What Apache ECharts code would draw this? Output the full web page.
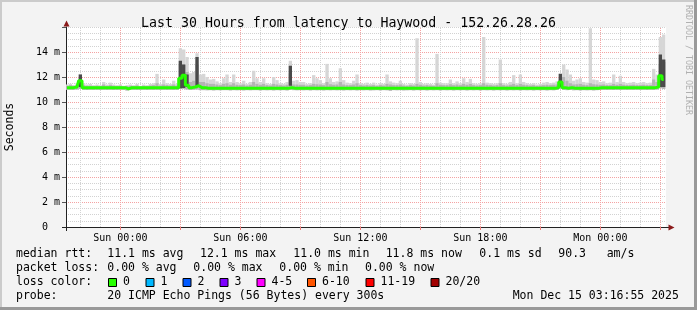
<!DOCTYPE html>
<html><head><meta charset="utf-8">
<script src="https://cdn.jsdelivr.net/npm/echarts@6/dist/echarts.min.js"></script>
<style>html,body{margin:0;padding:0;background:#f3f3f3}#c{width:697px;height:310px}</style>
</head><body><div id="c"></div>
<script>
// ---------------- data ----------------
const graphStart = Date.UTC(2025, 11, 13, 21, 16, 55);
const graphEnd   = Date.UTC(2025, 11, 15, 3, 16, 55);
const sampleStart = Date.UTC(2025, 11, 13, 21, 20, 0);
const sampleStepMin = 10;

const medianMs = [
11.15,11.15,11.15,11.20,11.70,11.15,11.15,11.15,11.15,11.15,
11.15,11.15,11.15,11.15,11.15,11.15,11.15,11.15,11.05,11.15,
11.15,11.15,11.15,11.15,11.15,11.15,11.15,11.15,11.15,11.15,
11.15,11.15,11.15,11.15,11.90,12.15,11.35,11.15,11.20,11.30,
11.15,11.15,11.10,11.10,11.10,11.10,11.10,11.10,11.10,11.10,
11.10,11.10,11.10,11.10,11.10,11.10,11.10,11.10,11.10,11.10,
11.10,11.10,11.10,11.10,11.10,11.10,11.10,11.15,11.10,11.10,
11.10,11.10,11.10,11.10,11.10,11.10,11.10,11.10,11.10,11.10,
11.10,11.10,11.10,11.10,11.10,11.10,11.10,11.10,11.10,11.10,
11.10,11.10,11.10,11.10,11.10,11.10,11.10,11.10,11.10,11.10,
11.10,11.10,11.10,11.10,11.10,11.10,11.10,11.10,11.10,11.10,
11.10,11.10,11.10,11.10,11.10,11.10,11.10,11.10,11.10,11.10,
11.10,11.10,11.10,11.10,11.10,11.10,11.10,11.10,11.10,11.10,
11.10,11.10,11.10,11.10,11.10,11.10,11.10,11.10,11.10,11.10,
11.10,11.10,11.10,11.10,11.10,11.10,11.10,11.15,11.60,11.15,
11.10,11.15,11.10,11.10,11.10,11.10,11.10,11.10,11.10,11.10,
11.15,11.15,11.15,11.15,11.15,11.15,11.15,11.15,11.15,11.15,
11.15,11.15,11.15,11.15,11.15,11.15,11.15,11.20,12.10,11.80];

const minMs = [
10.98,10.98,10.97,11.00,11.05,10.98,10.96,10.98,10.97,10.98,
10.97,10.98,10.97,10.98,10.96,10.97,10.98,10.97,10.92,10.98,
10.98,10.97,10.97,10.98,10.96,10.98,10.97,10.98,10.97,10.98,
10.97,10.98,10.97,10.98,11.05,11.10,11.00,10.97,10.98,11.00,
10.95,10.95,10.94,10.95,10.93,10.95,10.94,10.95,10.95,10.93,
10.95,10.94,10.95,10.93,10.95,10.94,10.95,10.95,10.93,10.95,
10.94,10.95,10.93,10.95,10.94,10.95,10.93,10.98,10.95,10.94,
10.95,10.94,10.95,10.93,10.95,10.94,10.95,10.93,10.95,10.94,
10.95,10.94,10.95,10.93,10.95,10.94,10.95,10.93,10.95,10.94,
10.95,10.93,10.94,10.95,10.93,10.95,10.94,10.90,10.95,10.94,
10.95,10.93,10.94,10.95,10.93,10.95,10.94,10.95,10.93,10.95,
10.94,10.95,10.93,10.95,10.94,10.95,10.93,10.95,10.94,10.95,
10.93,10.95,10.94,10.95,10.93,10.95,10.94,10.95,10.93,10.95,
10.94,10.95,10.93,10.95,10.94,10.95,10.93,10.95,10.94,10.95,
10.93,10.95,10.94,10.95,10.93,10.95,10.94,10.97,11.05,10.98,
10.95,10.97,10.94,10.95,10.93,10.95,10.94,10.95,10.93,10.95,
10.97,10.98,10.97,10.98,10.96,10.98,10.97,10.98,10.97,10.98,
10.97,10.98,10.97,10.98,10.96,10.98,10.97,11.00,11.10,11.05];

const midMs = [
11.30,11.35,11.30,11.35,11.90,11.35,11.30,11.30,11.28,11.30,
11.28,11.40,11.30,11.35,11.30,11.28,11.30,11.25,11.28,11.30,
11.28,11.32,11.25,11.30,11.28,11.32,11.35,11.50,11.32,11.40,
11.35,11.32,11.40,11.32,13.00,13.00,12.40,11.60,11.70,13.00,
11.60,11.60,11.50,11.45,11.45,11.40,11.35,11.45,11.50,11.38,
11.50,11.38,11.35,11.40,11.32,11.38,11.60,11.45,11.38,11.45,
11.35,11.32,11.45,11.40,11.35,11.32,11.38,12.30,11.40,11.40,
11.38,11.38,11.32,11.35,11.45,11.42,11.40,11.35,11.60,11.42,
11.38,11.40,11.60,11.40,11.35,11.35,11.40,11.50,11.35,11.32,
11.35,11.32,11.35,11.30,11.35,11.32,11.45,11.40,11.35,11.35,
11.40,11.32,11.30,11.35,11.32,11.45,11.38,11.32,11.35,11.32,
11.30,11.50,11.38,11.35,11.35,11.42,11.35,11.40,11.35,11.45,
11.38,11.45,11.35,11.32,11.35,11.50,11.38,11.35,11.32,11.35,
11.50,11.35,11.32,11.38,11.45,11.35,11.45,11.38,11.35,11.32,
11.35,11.30,11.32,11.35,11.38,11.35,11.38,11.40,11.90,12.00,
11.70,11.50,11.40,11.42,11.45,11.38,11.35,11.50,11.42,11.40,
11.38,11.40,11.35,11.35,11.45,11.38,11.45,11.38,11.35,11.35,
11.38,11.35,11.35,11.38,11.35,11.35,11.80,11.60,13.00,13.20];

const maxMs = [
11.40,11.45,11.35,11.50,12.25,11.50,11.40,11.45,11.35,11.40,
11.35,11.60,11.40,11.55,11.40,11.35,11.40,11.30,11.35,11.40,
11.35,11.45,11.30,11.40,11.35,11.45,11.50,12.25,11.45,11.80,
11.50,11.45,11.70,11.45,14.30,14.20,13.60,12.30,12.40,13.90,
12.20,12.25,12.00,11.80,11.85,11.65,11.50,11.90,12.20,11.60,
12.20,11.60,11.50,11.70,11.45,11.60,12.50,11.90,11.60,11.90,
11.50,11.45,12.00,11.75,11.50,11.45,11.60,13.30,11.70,11.75,
11.60,11.60,11.45,11.50,12.15,11.90,11.75,11.50,13.05,11.90,
11.60,11.65,12.70,11.75,11.55,11.50,11.70,12.20,11.50,11.45,
11.55,11.45,11.55,11.40,11.50,11.45,12.20,11.65,11.55,11.50,
11.70,11.45,11.40,11.50,11.45,15.10,11.60,11.45,11.50,11.45,
11.40,13.85,11.55,11.50,11.50,11.80,11.50,11.65,11.50,11.90,
11.60,11.85,11.50,11.45,11.50,15.20,11.55,11.50,11.45,11.50,
13.40,11.50,11.45,11.60,12.15,11.50,12.20,11.60,11.50,11.45,
11.50,11.40,11.45,11.55,11.60,11.50,11.55,11.65,12.30,13.00,
12.60,12.20,11.70,11.80,11.90,11.60,11.55,15.90,11.80,11.75,
11.60,11.65,11.50,11.55,12.20,11.60,12.10,11.60,11.50,11.55,
11.60,11.50,11.55,11.60,11.50,11.55,12.65,12.20,15.20,15.40];

// dark (many pings elevated) parts of the smoke
const darkIdx  = [4, 34, 35, 36, 39, 67, 148, 178, 179];
const darkLoMs = [11.20, 11.10, 11.10, 11.20, 11.30, 11.30, 11.20, 11.20, 11.20];
const darkHiMs = [12.20, 13.30, 13.00, 12.20, 13.60, 12.90, 12.25, 13.80, 13.40];

const xLabelTimes = [Date.UTC(2025,11,14,0), Date.UTC(2025,11,14,6), Date.UTC(2025,11,14,12), Date.UTC(2025,11,14,18), Date.UTC(2025,11,15,0)];
const xLabelTexts = ['Sun 00:00', 'Sun 06:00', 'Sun 12:00', 'Sun 18:00', 'Mon 00:00'];

const titleText = 'Last 30 Hours from latency to Haywood - 152.26.28.26';
const statsRtt  = ['11.1 ms avg', '12.1 ms max', '11.0 ms min', '11.8 ms now', '0.1 ms sd', '90.3', 'am/s'];
const statsLoss = ['0.00 % avg', '0.00 % max', '0.00 % min', '0.00 % now'];
const lossLabels = ['0', '1', '2', '3', '4-5', '6-10', '11-19', '20/20'];
const probeText = '20 ICMP Echo Pings (56 Bytes) every 300s';
const stampText = 'Mon Dec 15 03:16:55 2025';

// ---------------- styles / layout ----------------
const lossColors = ['#26ff00', '#00b8ff', '#0059ff', '#7e00ff', '#ff00ff', '#ff5500', '#ff0000', '#a10000'];
const MONO = '"DejaVu Sans Mono", monospace';
const LEG_FONT = '11.5px "DejaVu Sans Mono", monospace';
const GL = 66, GT = 27, GW = 600, GH = 200;

const stepMs = sampleStepMin * 60000;
const times = medianMs.map((_, i) => sampleStart + i * stepMs);
const H = 3600000;
const hourLines = [];
for (let t = Date.UTC(2025, 11, 13, 22); t < graphEnd; t += H) hourLines.push(t);
const major3h = hourLines.filter(t => new Date(t).getUTCHours() % 3 === 0);

const chart = echarts.init(document.getElementById('c'), null, {renderer: 'canvas', width: 697, height: 310});

const rttX = [107.3, 200, 293.3, 385.7, 479.3, 558.3, 606.7];
const lossX = [107.3, 193.3, 279.3, 365];
const boxX = [108, 145.5, 182.5, 219.5, 256.5, 307, 365.5, 430.5];
const gtext = (text, x, y, extra) => ({type: 'text', silent: true, style: Object.assign({text, x, y, font: LEG_FONT, fill: '#000', verticalAlign: 'middle'}, extra || {})});

const graphics = [
  {type: 'rect', shape: {x: 0, y: 0, width: 697, height: 2}, style: {fill: '#cbcbcb'}, silent: true},
  {type: 'rect', shape: {x: 0, y: 0, width: 2, height: 310}, style: {fill: '#cbcbcb'}, silent: true},
  {type: 'rect', shape: {x: 0, y: 307, width: 697, height: 3}, style: {fill: '#999999'}, silent: true},
  {type: 'rect', shape: {x: 694, y: 0, width: 3, height: 310}, style: {fill: '#999999'}, silent: true},
  // axis extensions and arrows
  {type: 'line', shape: {x1: 66.5, y1: 227, x2: 66.5, y2: 231}, style: {stroke: '#222', lineWidth: 1}, silent: true, z: 10},
  {type: 'line', shape: {x1: 62, y1: 227.5, x2: 66, y2: 227.5}, style: {stroke: '#222', lineWidth: 1}, silent: true, z: 10},
  {type: 'line', shape: {x1: 666, y1: 227.5, x2: 669, y2: 227.5}, style: {stroke: '#222', lineWidth: 1}, silent: true, z: 10},
  {type: 'polygon', shape: {points: [[63.5, 26.5], [69.5, 26.5], [66.5, 20.5]]}, style: {fill: '#8b1a1a'}, silent: true, z: 10},
  {type: 'polygon', shape: {points: [[668.5, 224.5], [668.5, 230.5], [674.5, 227.5]]}, style: {fill: '#8b1a1a'}, silent: true, z: 10},
  // y axis title
  {type: 'text', silent: true, x: 10.5, y: 127, rotation: Math.PI / 2,
   style: {text: 'Seconds', x: 0, y: 0, font: LEG_FONT, fill: '#000', textAlign: 'center', verticalAlign: 'middle'}},
  // watermark
  {type: 'text', silent: true, x: 688, y: 60, rotation: -Math.PI / 2,
   style: {text: 'RRDTOOL / TOBI OETIKER', x: 0, y: 0, font: '8.3px "DejaVu Sans Mono", monospace', fill: '#b0b0b0', textAlign: 'center', verticalAlign: 'middle'}},
  // legend
  gtext('median rtt:', 16, 254.5),
  gtext('packet loss:', 16, 268.5),
  gtext('loss color:', 16, 282.5),
  gtext('probe:', 16, 296.5),
  gtext(probeText, 107.3, 296.5),
  gtext(stampText, 512.7, 296.5)
];
statsRtt.forEach((s, i) => graphics.push(gtext(s, rttX[i], 254.5)));
statsLoss.forEach((s, i) => graphics.push(gtext(s, lossX[i], 268.5)));
lossLabels.forEach((s, i) => {
  graphics.push({type: 'rect', silent: true, shape: {x: boxX[i] + 0.5, y: 278.5, width: 8, height: 8}, style: {fill: lossColors[i], stroke: '#000', lineWidth: 1}});
  graphics.push(gtext(s, boxX[i] + 15, 282.5));
});

const yLineColors = ['#f4a3a3','#f4a3a3','#f4a3a3','#f4a3a3','#f4a3a3','#f4a3a3','#f4a3a3','#f4a3a3','#d2d2d2'];

chart.setOption({
  animation: false,
  backgroundColor: '#f3f3f3',
  title: {text: titleText, left: 'center', top: 12,
    textStyle: {fontFamily: MONO, fontSize: 13.25, fontWeight: 'normal', color: '#000'}},
  grid: {left: GL, top: GT, width: GW, height: GH, show: true, backgroundColor: '#ffffff', borderWidth: 0},
  xAxis: {
    type: 'value', min: graphStart, max: graphEnd,
    axisLine: {show: true, onZero: false, lineStyle: {color: '#222', width: 1}},
    axisTick: {show: true, customValues: major3h, length: 3, lineStyle: {color: '#f08080'}},
    axisLabel: {customValues: xLabelTimes, margin: 6, fontFamily: MONO, fontSize: 10, color: '#000',
      formatter: v => { const k = xLabelTimes.indexOf(v); return k >= 0 ? xLabelTexts[k] : ''; }},
    splitLine: {show: false}
  },
  yAxis: {
    type: 'value', min: 0, max: 16, interval: 2,
    axisLine: {show: true, lineStyle: {color: '#222', width: 1}},
    axisTick: {show: true, length: 4, lineStyle: {color: '#555'}},
    axisLabel: {margin: 6, fontFamily: MONO, fontSize: 10, color: '#000',
      formatter: v => v === 16 ? '' : (v === 0 ? '0  ' : v + ' m')},
    splitLine: {show: true, lineStyle: {color: yLineColors, type: [1, 1], width: 1}},
    minorTick: {show: false, splitNumber: 4},
    minorSplitLine: {show: true, lineStyle: {color: '#d2d2d2', type: [1, 1], width: 1}}
  },
  graphic: graphics,
  series: [
    { // vertical grid lines
      type: 'custom', silent: true, z: 1, clip: true,
      data: hourLines.map(t => [t, 0]),
      renderItem: (params, api) => {
        const t = api.value(0);
        const p0 = api.coord([t, 0]), p1 = api.coord([t, 16]);
        const x = Math.floor(p0[0]) + 0.5;
        const major = new Date(t).getUTCHours() % 3 === 0;
        return {type: 'line', shape: {x1: x, y1: p0[1], x2: x, y2: p1[1]},
          style: {stroke: major ? '#f4a3a3' : '#d2d2d2', lineWidth: 1, lineDash: [1, 1]}};
      }
    },
    { // smoke
      type: 'custom', silent: true, z: 2, clip: true,
      data: times.map((t, i) => [t, minMs[i], midMs[i], maxMs[i]]),
      encode: {x: 0, y: [1, 2, 3]},
      renderItem: (params, api) => {
        const t = api.value(0);
        const w = api.size([stepMs, 0])[0];
        const pl = api.coord([t, api.value(1)]), pm = api.coord([t, api.value(2)]), ph = api.coord([t, api.value(3)]);
        return {type: 'group', children: [
          {type: 'rect', shape: {x: pl[0] - w / 2, y: ph[1], width: w, height: pl[1] - ph[1]}, style: {fill: '#d6d6d6'}},
          {type: 'rect', shape: {x: pl[0] - w / 2, y: pm[1], width: w, height: pl[1] - pm[1]}, style: {fill: '#b4b4b4'}}
        ]};
      }
    },
    { // dark smoke
      type: 'custom', silent: true, z: 3, clip: true,
      data: darkIdx.map((k, j) => [times[k], darkLoMs[j], darkHiMs[j]]),
      encode: {x: 0, y: [1, 2]},
      renderItem: (params, api) => {
        const t = api.value(0);
        const w = api.size([stepMs, 0])[0];
        const pl = api.coord([t, api.value(1)]), ph = api.coord([t, api.value(2)]);
        return {type: 'rect', shape: {x: pl[0] - w / 2, y: ph[1], width: w, height: pl[1] - ph[1]}, style: {fill: '#4a4a4a'}};
      }
    },
    { // median rtt line
      type: 'line', z: 5, step: 'middle', symbol: 'none', silent: true,
      data: times.map((t, i) => [t, medianMs[i]]),
      lineStyle: {color: '#26ff00', width: 3}
    }
  ]
});
</script></body></html>
